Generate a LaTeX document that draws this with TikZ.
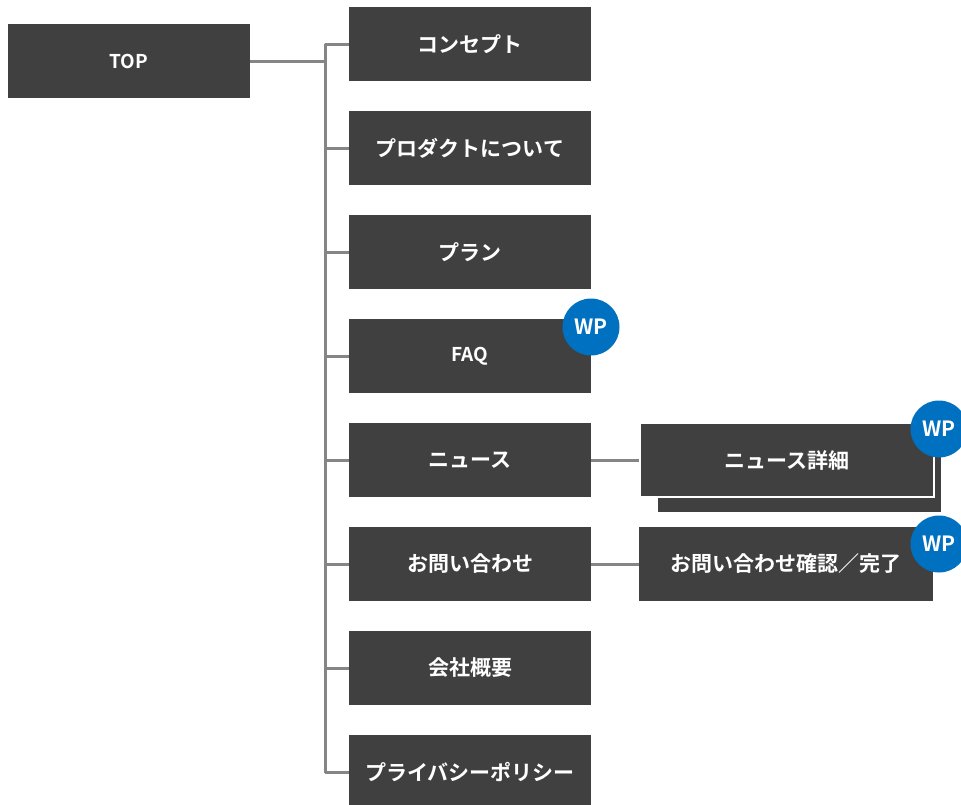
\documentclass[tikz,border=0pt]{standalone}
\usepackage{fontspec}
\newfontfamily\jpfont{Noto Sans CJK JP}[BoldFont={Noto Sans CJK JP Bold}]
\definecolor{boxgray}{HTML}{404040}
\definecolor{linegray}{HTML}{858585}
\definecolor{wpblue}{HTML}{0070C0}

\begin{document}
\begin{tikzpicture}[x=1pt,y=-1pt,
  page/.style={fill=boxgray,text=white,minimum width=242pt,minimum height=74pt,inner sep=0pt,
    font=\jpfont\bfseries\fontsize{21}{21}\selectfont},
  latin/.style={font=\jpfont\bfseries\fontsize{19}{19}\selectfont},
  wide/.style={page,minimum width=294pt},
  link/.style={draw=linegray,line width=3pt},
  wp/.style={circle,fill=wpblue,text=white,minimum size=57pt,inner sep=0pt,
    font=\jpfont\bfseries\fontsize{21}{21}\selectfont}]
\useasboundingbox (0,0) rectangle (961,804);

\node[page,latin] (top) at (129,61) {TOP};
\foreach \i / \name / \txt in {0/concept/コンセプト, 1/product/プロダクトについて,
    2/plan/プラン, 4/news/ニュース, 5/contact/お問い合わせ,
    6/company/会社概要, 7/policy/プライバシーポリシー}
  \node[page] (\name) at (470,44+104*\i) {\txt};
\node[page,latin] (faq) at (470,356) {FAQ};

% tree
\coordinate (bus) at (325,0);
\draw[link] (top.east) -- (top.east -| bus);
\draw[link,line join=round] (concept.west) -- (concept.west -| bus) -- (policy.west -| bus) -- (policy.west);
\foreach \name in {product,plan,faq,news,contact,company}
  \draw[link] (\name.west -| bus) -- (\name.west);

% second level
\node[page,minimum width=283pt] (newsback) at (799.5,475) {};
\node[wide,draw=white,line width=2pt] (newsdetail) at (787,460) {ニュース詳細};
\node[wide] (confirm) at (786,564) {お問い合わせ確認／完了};
\draw[link] (news.east) -- (newsdetail.west);
\draw[link] (contact.east) -- (confirm.west);

% WordPress pages
\node[wp] (wpfaq) at (591,327) {WP};
\node[wp] (wpnews) at (939,429) {WP};
\node[wp] (wpconfirm) at (939,544) {WP};
\end{tikzpicture}
\end{document}
